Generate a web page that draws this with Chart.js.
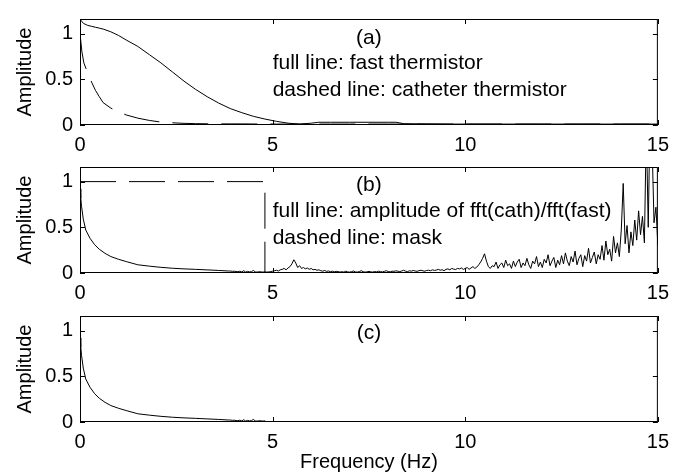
<!DOCTYPE html>
<html>
<head>
<meta charset="utf-8">
<title>Thermistor spectra</title>
<script src="https://cdn.jsdelivr.net/npm/chart.js@4.4.1/dist/chart.umd.min.js"></script>
<style>
  body { margin: 0; background: #fff; }
  #figure { position: relative; width: 677px; height: 476px; overflow: hidden; }
  canvas { position: absolute; left: 0; }
</style>
</head>
<body>
<div id="figure">
  <canvas id="panelA" width="677" height="160" style="top:0"></canvas>
  <canvas id="panelB" width="677" height="160" style="top:148px"></canvas>
  <canvas id="panelC" width="677" height="179" style="top:297px"></canvas>
</div>
<script>
const X_TICKS = [0, 5, 10, 15];
const Y_TICKS = [0, 0.5, 1];
const X_MAX = 15;
const Y_MAX = 1.16;

// (a) amplitude spectra of both thermistors
const aFreq = [0, 0.05, 0.1, 0.2, 0.3, 0.4, 0.5, 0.6, 0.8, 1.0,
  1.2, 1.5, 1.8, 2.1, 2.4, 2.7, 3.0, 3.3, 3.6, 3.9,
  4.2, 4.5, 4.8, 5.1, 5.4, 5.7, 6.0, 6.2, 6.5, 7.0,
  7.5, 8.0, 8.2, 8.4, 9.0, 9.5, 10, 11, 12, 13,
  14, 15];
const fastAmp = [1.16, 1.13, 1.11, 1.09, 1.08, 1.07, 1.06, 1.05, 1.02, 0.98,
  0.93, 0.86, 0.77, 0.68, 0.58, 0.48, 0.39, 0.31, 0.24, 0.18,
  0.135, 0.095, 0.065, 0.04, 0.02, 0.01, 0.02, 0.03, 0.03, 0.03,
  0.03, 0.03, 0.03, 0.015, 0.012, 0.01, 0.01, 0.01, 0.01, 0.01,
  0.01, 0.01];
const cathAmp = [1.0, 0.8, 0.68, 0.57, 0.47, 0.38, 0.31, 0.245, 0.185, 0.145,
  0.11, 0.075, 0.05, 0.032, 0.024, 0.018, 0.015, 0.013, 0.012, 0.012,
  0.012, 0.011, 0.011, 0.01, 0.01, 0.01, 0.01, 0.01, 0.01, 0.01,
  0.01, 0.01, 0.01, 0.01, 0.01, 0.01, 0.01, 0.01, 0.01, 0.01,
  0.01, 0.01];

// (b) |fft(cath)/fft(fast)|: smooth low-frequency part ...
const bFreq = [0, 0.02, 0.04, 0.085, 0.15, 0.26, 0.38, 0.5, 0.65, 0.8,
  1.0, 1.2, 1.5, 1.8, 2.1, 2.4, 2.7, 3.0, 3.3, 3.6, 3.85];
const bAmp = [0.92, 0.82, 0.73, 0.59, 0.47, 0.38, 0.31, 0.26, 0.215, 0.18,
  0.15, 0.125, 0.09, 0.075, 0.062, 0.052, 0.045, 0.04, 0.034, 0.028, 0.022];
// ... and the noisy tail, one value per bin from 3.9 Hz
const bTailStart = 3.9;
const bTailStep = 0.05;
const bTail = [
  // 3.90 - 4.80
  0.022, 0.018, 0.02, 0.016, 0.014, 0.02, 0.012, 0.025, 0.01, 0.018,
  0.012, 0.015, 0.028, 0.012, 0.01, 0.014, 0.012, 0.01, 0.012,
  // 4.85 - 5.00
  0.01, 0.012, 0.015, 0.02,
  // 5.05 - 5.40
  0.025, 0.03, 0.022, 0.035, 0.04, 0.05, 0.035, 0.055,
  // 5.45 - 5.75
  0.07, 0.1, 0.145, 0.11, 0.06, 0.08, 0.05,
  // 5.80 - 6.20
  0.06, 0.045, 0.055, 0.04, 0.05, 0.035, 0.04, 0.03, 0.035,
  // 6.25 - 7.50
  0.025, 0.02, 0.028, 0.018, 0.022, 0.015, 0.02, 0.012, 0.018, 0.015,
  0.01, 0.014, 0.01, 0.02, 0.012, 0.01, 0.015, 0.022, 0.012, 0.01,
  0.016, 0.025, 0.014, 0.01, 0.012, 0.018,
  // 7.55 - 9.00
  0.012, 0.01, 0.016, 0.012, 0.02, 0.015, 0.012, 0.018, 0.025, 0.016,
  0.012, 0.02, 0.018, 0.024, 0.02, 0.015, 0.022, 0.03, 0.02, 0.016,
  0.024, 0.02, 0.028, 0.022, 0.018, 0.026, 0.03, 0.024, 0.02, 0.028,
  // 9.05 - 10.00
  0.03, 0.025, 0.035, 0.028, 0.032, 0.04, 0.03, 0.036, 0.025, 0.04,
  0.045, 0.035, 0.05, 0.042, 0.038, 0.05, 0.045, 0.055, 0.04, 0.05,
  // 10.05 - 10.45
  0.06, 0.04, 0.055, 0.07, 0.05, 0.065, 0.09, 0.12, 0.16,
  // 10.50 - 10.70
  0.21, 0.13, 0.07, 0.05, 0.08,
  // 10.75 - 11.50
  0.07, 0.12, 0.05, 0.09, 0.11, 0.06, 0.14, 0.08, 0.1, 0.05,
  0.13, 0.07, 0.12, 0.15, 0.06, 0.11,
  // 11.55 - 12.50
  0.08, 0.16, 0.09, 0.05, 0.13, 0.1, 0.18, 0.07, 0.12, 0.06,
  0.15, 0.11, 0.2, 0.08, 0.13, 0.17, 0.06, 0.14, 0.09, 0.19,
  // 12.55 - 13.50
  0.1, 0.22, 0.13, 0.08, 0.18, 0.12, 0.24, 0.09, 0.16, 0.2,
  0.07, 0.19, 0.13, 0.27, 0.11, 0.17, 0.23, 0.1, 0.2, 0.15,
  // 13.55 - 14.10
  0.3, 0.14, 0.35, 0.2, 0.26, 0.13, 0.4, 0.22, 0.33, 0.18, 0.47, 0.98,
  // 14.15 - 14.65
  0.32, 0.52, 0.22, 0.45, 0.3, 0.58, 0.36, 0.68, 0.42, 0.62, 0.33,
  // 14.70 - 15.00
  1.6, 0.5, 1.8, 1.4, 0.55, 0.72, 0.3
];

// (b) mask: pass everything below the cut-off
const maskFreq = [0, 4.8, 4.8, 15];
const maskAmp = [1, 1, 0, 0];

const FONT = '"Liberation Sans", Arial, Helvetica, sans-serif';
Chart.defaults.font.family = FONT;
Chart.defaults.font.size = 20;
Chart.defaults.color = '#000';

const pts = (xs, ys) => xs.map((v, i) => ({ x: v, y: ys[i] }));

const bPoints = pts(bFreq, bAmp).concat(
  bTail.map((v, i) => ({ x: +(bTailStart + i * bTailStep).toFixed(2), y: v }))
);
const maskEdge = maskFreq[1];
// (c) the ratio after masking: zero above the cut-off
const cPoints = bPoints.filter(p => p.x <= maskEdge).concat(
  [{ x: maskEdge, y: 0 }, { x: X_MAX, y: 0 }]
);

// box around the plot with inward tick marks on all four sides
const frameTicks = {
  id: 'frameTicks',
  afterDatasetsDraw(chart) {
    const { ctx, chartArea: { left, right, top, bottom }, scales: { x, y } } = chart;
    const len = 5;
    ctx.save();
    ctx.strokeStyle = '#000';
    ctx.lineWidth = 1;
    ctx.strokeRect(left + 0.5, top + 0.5, right - left - 1, bottom - top - 1);
    ctx.beginPath();
    X_TICKS.forEach(v => {
      const px = Math.round(x.getPixelForValue(v)) + 0.5;
      ctx.moveTo(px, bottom); ctx.lineTo(px, bottom - len);
      ctx.moveTo(px, top); ctx.lineTo(px, top + len);
    });
    Y_TICKS.forEach(v => {
      const py = Math.round(y.getPixelForValue(v)) + 0.5;
      ctx.moveTo(left, py); ctx.lineTo(left + len, py);
      ctx.moveTo(right, py); ctx.lineTo(right - len, py);
    });
    ctx.stroke();
    ctx.restore();
  }
};

// text placed in data coordinates
const notes = {
  id: 'notes',
  afterDraw(chart, args, opts) {
    const { ctx, scales: { x, y } } = chart;
    ctx.save();
    ctx.fillStyle = '#000';
    ctx.font = '21px ' + FONT;
    ctx.textBaseline = 'middle';
    (opts.items || []).forEach(n => {
      ctx.textAlign = n.align || 'left';
      ctx.fillText(n.text, x.getPixelForValue(n.f), y.getPixelForValue(n.amp));
    });
    ctx.restore();
  }
};

function makePanel(id, datasets, items, axisHeight, xTitle) {
  return new Chart(document.getElementById(id), {
    type: 'line',
    data: { datasets },
    plugins: [frameTicks, notes],
    options: {
      responsive: false,
      animation: false,
      devicePixelRatio: 1,
      layout: { padding: { left: 0, right: 12, top: 13, bottom: 0 } },
      elements: {
        line: { tension: 0, borderWidth: 1, borderColor: '#000' },
        point: { radius: 0 }
      },
      plugins: {
        legend: { display: false },
        tooltip: { enabled: false },
        notes: { items }
      },
      scales: {
        x: {
          type: 'linear', min: 0, max: X_MAX,
          afterBuildTicks: s => { s.ticks = X_TICKS.map(v => ({ value: v })); },
          afterFit: s => { s.height = axisHeight; },
          ticks: { padding: 8, autoSkip: false, maxRotation: 0, callback: v => String(v) },
          grid: { display: false, drawTicks: false },
          border: { display: false },
          title: {
            display: !!xTitle, text: xTitle || '',
            font: { size: 20 }, padding: { top: 0, bottom: 2 }
          }
        },
        y: {
          min: 0, max: Y_MAX,
          afterBuildTicks: s => { s.ticks = Y_TICKS.map(v => ({ value: v })); },
          afterFit: s => { s.width = 80; },
          ticks: { padding: 7, callback: v => String(v) },
          grid: { display: false, drawTicks: false },
          border: { display: false },
          title: {
            display: true, text: 'Amplitude',
            font: { size: 20 }, padding: { top: 13, bottom: 0 }
          }
        }
      }
    }
  });
}

makePanel('panelA', [
  { data: pts(aFreq, fastAmp) },
  { data: pts(aFreq, cathAmp), borderDash: [36, 13] }
], [
  { text: '(a)', f: 7.5, amp: 0.95, align: 'center' },
  { text: 'full line: fast thermistor', f: 5.0, amp: 0.68 },
  { text: 'dashed line: catheter thermistor', f: 5.0, amp: 0.38 }
], 35);

makePanel('panelB', [
  { data: bPoints },
  { data: pts(maskFreq, maskAmp), borderDash: [36, 13] }
], [
  { text: '(b)', f: 7.5, amp: 0.96, align: 'center' },
  { text: 'full line: amplitude of fft(cath)/fft(fast)', f: 5.0, amp: 0.68 },
  { text: 'dashed line: mask', f: 5.0, amp: 0.38 }
], 35);

makePanel('panelC', [
  { data: cPoints }
], [
  { text: '(c)', f: 7.5, amp: 0.97, align: 'center' }
], 54, 'Frequency (Hz)');
</script>
</body>
</html>
